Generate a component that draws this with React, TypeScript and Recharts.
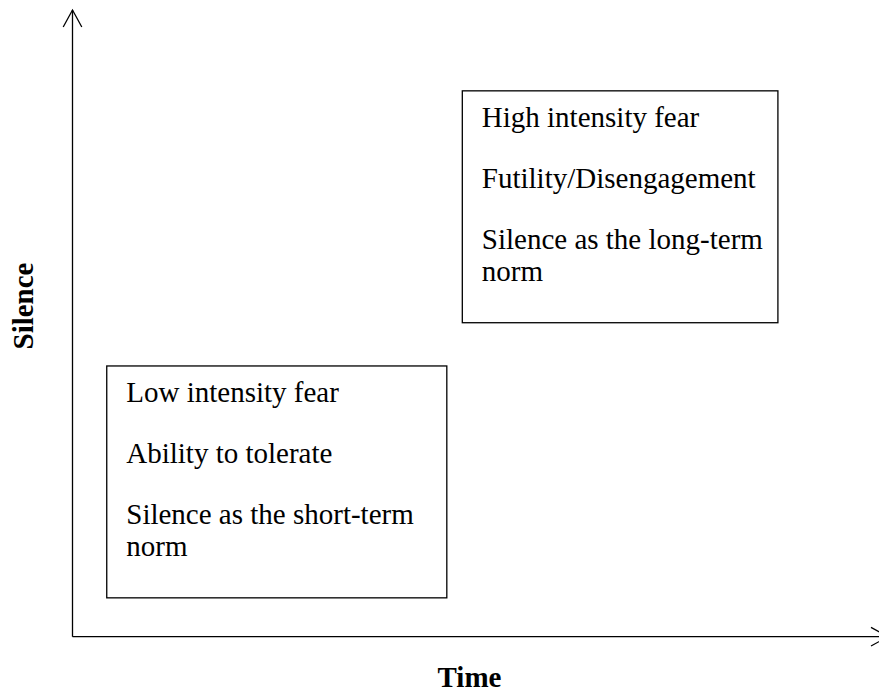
import React from "react";
import {
  ComposedChart,
  XAxis,
  YAxis,
  ReferenceArea,
  ReferenceLine,
} from "recharts";

// concept diagram: position of each box on the time / silence axes (0..100)
const axisTitles = ["Time", "Silence"];
const boxTimeStart = [4.2, 47.8];
const boxTimeEnd = [45.9, 86.5];
const boxSilenceLow = [6.2, 50.1];
const boxSilenceHigh = [43.2, 87.1];
const boxParagraphs = [
  [["Low intensity fear"], ["Ability to tolerate"], ["Silence as the short-term", "norm"]],
  [["High intensity fear"], ["Futility/Disengagement"], ["Silence as the long-term", "norm"]],
];

const serif = '"Liberation Serif", "Times New Roman", serif';

const data = boxTimeStart.map((t, i) => ({
  t0: t,
  t1: boxTimeEnd[i],
  s0: boxSilenceLow[i],
  s1: boxSilenceHigh[i],
}));

const ArrowLine = (props: any) => {
  const { x1, y1, x2, y2 } = props;
  const dx = x2 - x1;
  const dy = y2 - y1;
  const len = Math.sqrt(dx * dx + dy * dy) || 1;
  const ux = dx / len;
  const uy = dy / len;
  const back = 17;
  const spread = 9.3;
  const bx = x2 - ux * back;
  const by = y2 - uy * back;
  const pts = `${bx - uy * spread},${by + ux * spread} ${x2},${y2} ${bx + uy * spread},${by - ux * spread}`;
  return (
    <g>
      <line x1={x1} y1={y1} x2={x2} y2={y2} stroke="#000" strokeWidth={1.3} />
      <polyline points={pts} fill="none" stroke="#000" strokeWidth={1.3} />
    </g>
  );
};

const TextBox = (props: any) => {
  const { x, y, width, height, paragraphs } = props;
  const rows: Array<{ text: string; dy: number }> = [];
  let cy = y + 36;
  paragraphs.forEach((p: string[]) => {
    p.forEach((line, j) => {
      rows.push({ text: line, dy: cy + j * 32 });
    });
    cy += 61 + (p.length - 1) * 32;
  });
  return (
    <g>
      <rect x={x} y={y} width={width} height={height} fill="#fff" stroke="#000" strokeWidth={1.3} />
      {rows.map((r) => (
        <text key={r.text + r.dy} x={x + 19.5} y={r.dy} fontFamily={serif} fontSize={29} fill="#000">
          {r.text}
        </text>
      ))}
    </g>
  );
};

export default function App() {
  return (
    <div style={{ position: "absolute", left: 0, top: 0, width: 879, height: 694, overflow: "hidden", background: "#fff" }}>
      <ComposedChart
        width={888}
        height={694}
        data={data}
        margin={{ top: 10, right: 0, left: 72.5, bottom: 57.3 }}
      >
        <XAxis type="number" dataKey="t0" domain={[0, 100]} hide allowDataOverflow />
        <YAxis type="number" dataKey="s0" domain={[0, 100]} hide allowDataOverflow />
        <ReferenceLine
          segment={[{ x: 0, y: 0 }, { x: 0, y: 100 }]}
          ifOverflow="visible"
          shape={(p: any) => <ArrowLine {...p} />}
        />
        <ReferenceLine
          segment={[{ x: 0, y: 0 }, { x: 100, y: 0 }]}
          ifOverflow="visible"
          shape={(p: any) => <ArrowLine {...p} />}
        />
        {data.map((d, i) => (
          <ReferenceArea
            key={i}
            x1={d.t0}
            x2={d.t1}
            y1={d.s0}
            y2={d.s1}
            ifOverflow="visible"
            shape={(p: any) => <TextBox {...p} paragraphs={boxParagraphs[i]} />}
          />
        ))}
        <text x={469.5} y={687} textAnchor="middle" fontFamily={serif} fontSize={29} fontWeight="bold" fill="#000">
          {axisTitles[0]}
        </text>
        <text
          x={33}
          y={306}
          textAnchor="middle"
          transform="rotate(-90 33 306)"
          fontFamily={serif}
          fontSize={29}
          fontWeight="bold"
          fill="#000"
        >
          {axisTitles[1]}
        </text>
      </ComposedChart>
    </div>
  );
}
